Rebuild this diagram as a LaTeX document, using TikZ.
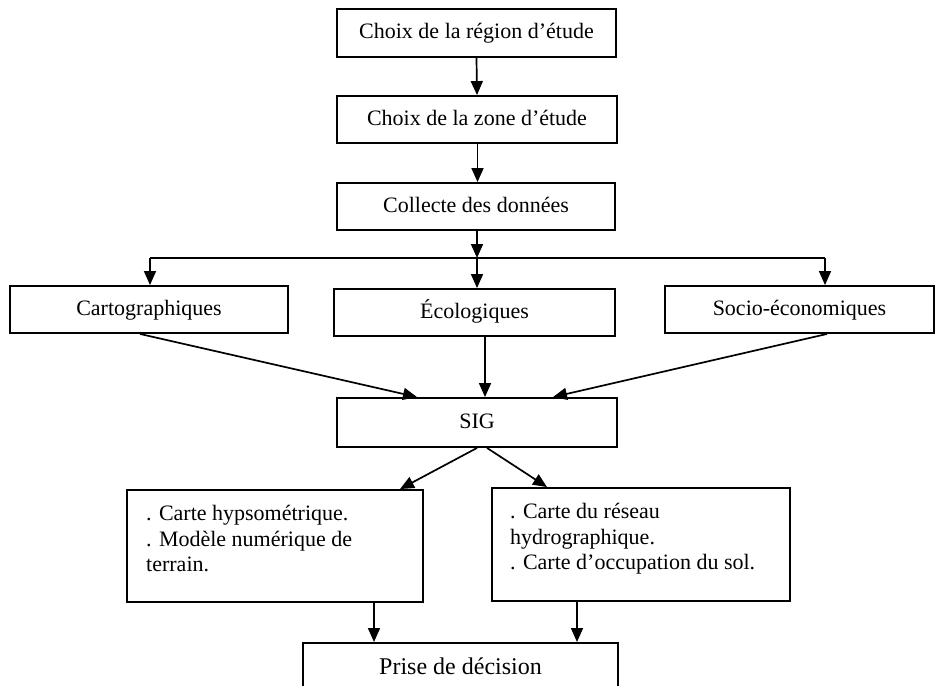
\documentclass[tikz,border=0pt]{standalone}
\usepackage{fontspec}
\setmainfont{Liberation Serif}
\usetikzlibrary{arrows.meta}
\begin{document}
\begin{tikzpicture}[x=1pt,y=-1pt,
  box/.style={draw,line width=1.9pt,inner sep=0pt,font=\fontsize{22}{25}\selectfont},
  lbl/.style={text height=15pt,text depth=4pt},
  txt/.style={inner sep=0pt,align=left,anchor=north west,font=\fontsize{22}{25.5}\selectfont},
  arr/.style={line width=1.7pt,-{Triangle[width=12pt,length=14pt]}},
  ln/.style={line width=1.7pt}]
\useasboundingbox (0,0) rectangle (936,685);
\clip (0,0) rectangle (936,685);
\fill[white] (0,0) rectangle (936,685);

\node[box,lbl,minimum width=279pt,minimum height=48pt] (r1) at (476.5,33) {Choix de la région d’étude};
\node[box,lbl,minimum width=280pt,minimum height=47pt] (r2) at (477,119.5) {Choix de la zone d’étude};
\node[box,lbl,minimum width=278pt,minimum height=47pt] (r3) at (476,206.5) {Collecte des données};
\node[box,lbl,minimum width=278pt,minimum height=47pt] (carto) at (149,309.5) {Cartographiques};
\node[box,lbl,minimum width=281pt,minimum height=47pt] (eco) at (474.5,312.5) {Écologiques};
\node[box,lbl,minimum width=269pt,minimum height=47pt] (socio) at (799.5,309.5) {Socio-économiques};
\node[box,lbl,minimum width=280pt,minimum height=49pt] (sig) at (477,422.5) {SIG};
\node[box,minimum width=296pt,minimum height=112pt] (left) at (275,546) {};
\node[box,minimum width=298pt,minimum height=113pt] (right) at (641,544.5) {};
\node[txt] (lefttxt) at (146,505) {. Carte hypsométrique.\\. Modèle numérique de\\terrain.};
\node[txt] (righttxt) at (510,503) {. Carte du réseau\\hydrographique.\\. Carte d’occupation du sol.};
\node[box,anchor=north,minimum width=315pt,text height=17pt,text depth=30pt,inner ysep=15pt,font=\fontsize{24}{26}\selectfont] (prise) at (460.5,642) {Prise de décision};

\coordinate (bus) at (477,258);
\coordinate (busL) at (150,258);
\coordinate (busR) at (825,258);

\draw[arr] (r1.south) -- (r2.north);
\draw[arr] ([xshift=0.5pt]r2.south) -- ([xshift=1.5pt]r3.north);
\draw[arr] ([xshift=1pt]r3.south) -- (bus);
\draw[ln] (busL) -- (busR);
\draw[arr] (busL) -- (busL |- carto.north);
\draw[arr] (bus) -- (bus |- eco.north);
\draw[arr] (busR) -- (busR |- socio.north);

\draw[arr] ([xshift=-9pt]carto.south) -- ([xshift=-60pt]sig.north);
\draw[arr] ([xshift=10.5pt]eco.south) -- ([xshift=8pt]sig.north);
\draw[arr] ([xshift=27.5pt]socio.south) -- ([xshift=76pt]sig.north);

\draw[arr] (sig.south) -- ([xshift=125pt]left.north);
\draw[arr] ([xshift=10pt]sig.south) -- ([xshift=-94pt]right.north);

\draw[arr] ([xshift=99pt]left.south) -- ([xshift=99pt]left.south |- prise.north);
\draw[arr] ([xshift=-64pt]right.south) -- ([xshift=-64pt]right.south |- prise.north);
\end{tikzpicture}
\end{document}
